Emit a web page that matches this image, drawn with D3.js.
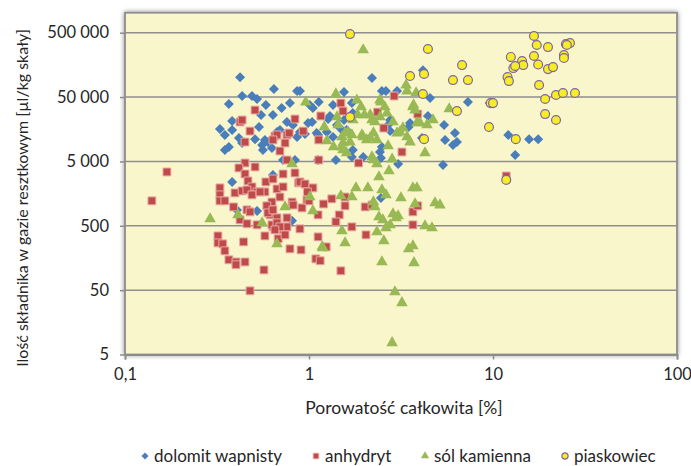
<!DOCTYPE html>
<html>
<head>
<meta charset="utf-8">
<script src="https://cdn.jsdelivr.net/npm/d3@7"></script>
<style>
  body { margin: 0; background: #fff; }
  text { font-family: Lato, "Open Sans", sans-serif; fill: #262626; }
</style>
</head>
<body>
<svg id="chart" width="691" height="466"></svg>
<script>
// porosity [%], amount [ul/kg]
var dolomit = [
  [0.422,102000],[0.433,51900],[0.49,51900],[0.522,46600],[0.645,66500],[0.861,62000],
  [0.367,38900],[0.583,37600],[0.71,33800],[0.788,40300],[1.13,41800],[1.05,33800],
  [1.01,37600],[0.549,26300],[0.637,26300],[0.382,21200],[0.328,15900],[0.349,12900],
  [0.382,15400],[0.535,17100],[0.509,11100],[0.416,11600],[0.433,9660],[0.759,20500],
  [0.818,18400],[0.695,15400],[0.67,14300],[0.988,19800],[1.04,20500],[0.576,10800],
  [0.556,9000],[0.598,10000],[0.562,7520],[0.629,8080],[0.349,7520],[0.367,8380],
  [0.893,14300],[0.951,13300],[0.861,12000],[1.1,13800],[0.723,5260],[0.839,5260],
  [1.12,5260],[0.382,2400],[0.637,3080],[0.522,852],[0.809,596],[2.46,1350],
  [0.893,62000],[2.2,98600],[4.16,131000],[1.55,59800],[2.49,62000],[2.62,62000],
  [3.01,62000],[4.55,48300],[7.31,41800],[9.6,40300],[1.35,37600],[1.3,25400],
  [1.27,22800],[1.73,28200],[1.71,40300],[1.55,22000],[1.42,18400],[1.51,15400],
  [1.6,15400],[1.12,12900],[1.25,14300],[1.35,12000],[2.76,22000],[2.69,18400],
  [3.54,19800],[3.48,17100],[4.43,25400],[5.42,18400],[6.21,13800],[5.49,10800],
  [6.06,9000],[6.37,10000],[4.11,11600],[1.71,5860],[1.73,7520],[2.49,8380],
  [2.43,7000],[1.4,5260],[1.97,5860],[3.05,4560],[5.35,4400],[2.76,14800],
  [12.1,12900],[15.7,11100],[17.6,11100],[13.2,6300],[2.46,5650],[0.406,883]
];
var anhydryt = [
  [0.509,31400],[0.422,20500],[0.433,22000],[0.478,14800],[0.449,10000],[0.653,12400],
  [0.67,12900],[0.759,12900],[0.78,13800],[0.839,22800],[0.93,14800],[0.741,9660],
  [0.695,7260],[0.637,10800],[0.759,5260],[0.449,4730],[0.509,4100],[0.416,3960],
  [1.16,25400],[1.13,10800],[1.13,5260],[0.169,3430],[0.14,1220],[0.449,3190],
  [0.466,2490],[0.49,2010],[0.328,1940],[0.328,1510],[0.328,1220],[0.349,1220],
  [0.396,1620],[0.433,1740],[0.46,1800],[0.522,1680],[0.576,1680],[0.583,2400],
  [0.637,2670],[0.723,3190],[0.839,3310],[0.67,1870],[0.723,2010],[0.629,1170],
  [0.59,1020],[0.809,1170],[0.877,2320],[0.916,948],[0.975,1260],[0.389,982],
  [0.46,883],[0.478,822],[0.422,618],[0.46,538],[0.522,517],[0.614,738],
  [0.67,664],[0.759,664],[0.637,481],[0.723,432],[0.759,481],[0.576,348],
  [0.68,314],[0.32,348],[0.32,271],[0.34,262],[0.349,204],[0.441,281],
  [0.367,148],[0.401,137],[0.401,124],[0.449,137],[0.569,103],[0.788,219],
  [0.905,211],[0.893,448],[0.478,48.8],[0.893,2400],[0.951,2230],[1.05,1940],
  [0.98,1680],[0.695,1400],[0.49,1510],[0.542,1680],[0.82,1050],[1.0,1220],
  [1.2,1090],[1.12,738],[0.598,793],[0.637,883],[0.629,517],[0.67,555],
  [0.695,481],[0.653,432],[0.741,361],[1.12,336],[1.09,153],[1.15,143],
  [1.33,1310],[1.57,1400],[1.57,1020],[1.46,738],[1.4,575],[2.02,982],
  [2.2,1050],[1.71,481],[2.04,361],[3.67,822],[3.9,1020],[3.67,517],
  [1.24,235],[1.49,99.8],[1.49,40300],[1.53,30300],[2.9,51900],[2.36,29200],
  [3.9,27200],[2.55,16500],[3.2,7000],[1.86,4730],[11.8,2970]
];
var solKamienna = [
  [0.96,41800],[0.809,4560],[1.21,17100],[1.25,10400],[0.29,640],[0.411,738],
  [0.556,555],[0.741,982],[0.67,262],[1.01,1400],[1.05,852],[1.18,235],
  [1.6,6760],[2.2,5860],[2.34,4560],[2.83,5430],[2.72,3560],[2.4,2870],
  [4.27,6760],[1.8,1940],[2.09,1940],[1.71,1400],[1.49,1460],[2.49,1800],
  [2.62,1510],[2.24,1170],[2.28,982],[2.4,688],[2.52,618],[3.16,1350],
  [3.67,1940],[3.86,1940],[3.77,1090],[4.84,1130],[5.15,1050],[2.86,765],
  [3.05,713],[2.97,664],[2.76,517],[2.62,464],[2.34,402],[1.51,417],
  [1.57,271],[2.55,290],[4.27,498],[4.66,464],[1.19,227],[3.48,219],
  [3.67,244],[2.49,137],[3.72,133],[2.93,47.1],[3.2,31.8],[2.83,7.6],
  [1.97,269000],[1.4,55700],[1.82,44900],[1.92,35000],[2.43,44900],[2.58,35000],
  [3.37,76800],[3.82,57800],[3.41,62000],[3.67,35000],[3.77,31400],[5.78,32600],
  [1.42,24500],[1.44,18400],[1.94,12900],[2.0,26300],[2.15,26300],[2.2,22000],
  [1.57,13800],[1.51,12000],[1.53,9660],[1.67,10000],[2.28,20500],[2.43,24500],
  [2.65,28200],[2.86,20500],[2.24,13800],[2.06,10800],[2.15,11600],[3.01,13800],
  [3.12,14300],[3.24,16500],[3.41,12000],[3.54,10000],[3.86,19800],[4.38,18400],
  [4.72,22000],[2.69,8680],[1.73,22000],[1.84,26300],[2.24,5260],[1.36,8380],
  [1.51,8380],[1.53,7520],[2.34,10800],[2.46,41800],[3.7,37600],[1.63,14300],
  [1.71,12900],[1.97,12000],[4.01,19800]
];
var piaskowiec = [
  [1.67,476000],[4.43,279000],[6.79,157000],[3.54,106000],[4.22,114000],[6.06,91800],
  [7.31,91800],[4.16,55700],[9.7,40300],[10.0,40300],[6.37,30300],[1.67,24500],
  [9.51,17100],[4.22,11100],[13.3,11100],[16.7,444000],[17.3,322000],[19.9,299000],
  [24.9,333000],[26.2,345000],[25.2,322000],[12.5,210000],[16.7,217000],[17.6,160000],
  [14.4,181000],[14.6,157000],[12.9,141000],[13.2,152000],[19.9,136000],[21.2,146000],
  [24.3,225000],[24.3,202000],[12.0,102000],[12.2,88600],[17.8,76800],[19.2,46600],
  [22.0,53800],[24.0,57800],[27.9,57800],[19.2,27200],[22.0,22000],[11.8,2580]
];

var xTicks = [0.1, 1, 10, 100];
var xTickLabels = ["0,1", "1", "10", "100"];
var yTicks = [5, 50, 500, 5000, 50000, 500000];
var yTickLabels = ["5", "50", "500", "5 000", "50 000", "500 000"];
var seriesNames = ["dolomit wapnisty", "anhydryt", "sól kamienna", "piaskowiec"];

var svg = d3.select("#chart");
var plot = {left: 125, right: 677, top: 12.7, bottom: 354.5};

var xScale = d3.scaleLog().domain([0.1, 100]).range([plot.left, plot.right]);
var yScale = d3.scaleLog().domain([5, 500000]).range([plot.bottom, 32.7]);

// shadow for the plot frame
var defs = svg.append("defs");
var shadow = defs.append("filter").attr("id", "shadow")
  .attr("x", "-5%").attr("y", "-5%").attr("width", "110%").attr("height", "110%");
shadow.append("feGaussianBlur").attr("in", "SourceAlpha").attr("stdDeviation", 2.5);
shadow.append("feComponentTransfer").append("feFuncA").attr("type", "linear").attr("slope", 0.45);
var merge = shadow.append("feMerge");
merge.append("feMergeNode");
merge.append("feMergeNode").attr("in", "SourceGraphic");

svg.append("rect")
  .attr("x", plot.left).attr("y", plot.top)
  .attr("width", plot.right - plot.left).attr("height", plot.bottom - plot.top)
  .attr("fill", "#FAF6CC")
  .attr("stroke", "#8c8c8c").attr("stroke-width", 1.8)
  .attr("filter", "url(#shadow)");

// horizontal gridlines
svg.append("g").selectAll("line")
  .data(yTicks.slice(1))
  .enter().append("line")
  .attr("x1", plot.left).attr("x2", plot.right)
  .attr("y1", d => yScale(d)).attr("y2", d => yScale(d))
  .attr("stroke", "#8e8e8e").attr("stroke-width", 1.5);

// axes
var xAxis = d3.axisBottom(xScale).tickValues(xTicks)
  .tickFormat((d, i) => xTickLabels[i]).tickSize(5).tickPadding(9);
var gx = svg.append("g").attr("transform", "translate(0," + plot.bottom + ")").call(xAxis);
gx.select(".domain").attr("stroke", "#8c8c8c").attr("stroke-width", 1.8);
gx.selectAll(".tick line").attr("stroke", "#8c8c8c").attr("stroke-width", 1.5);
gx.selectAll(".tick text").style("font-size", "16.5px").attr("fill", "#262626");

var yAxis = d3.axisLeft(yScale).tickValues(yTicks)
  .tickFormat((d, i) => yTickLabels[i]).tickSize(5).tickPadding(11);
var gy = svg.append("g").attr("transform", "translate(" + plot.left + ",0)").call(yAxis);
gy.select(".domain").remove();
gy.selectAll(".tick line").attr("stroke", "#8c8c8c").attr("stroke-width", 1.5);
gy.selectAll(".tick text").style("font-size", "16.5px").attr("fill", "#262626");

// axis titles
svg.append("text")
  .attr("x", 404).attr("y", 414)
  .attr("text-anchor", "middle").style("font-size", "17.5px")
  .text("Porowatość całkowita [%]");
svg.append("text")
  .attr("transform", "translate(28,198) rotate(-90)")
  .attr("text-anchor", "middle").style("font-size", "16px")
  .text("Ilość składnika w gazie resztkowym [µl/kg skały]");

// markers
var pts = svg.append("g");
function drawSymbol(g, data, type, size, fill, stroke, sw) {
  g.selectAll(null).data(data).enter().append("path")
    .attr("transform", d => "translate(" + xScale(d[0]) + "," + yScale(d[1]) + ")")
    .attr("d", d3.symbol().type(type).size(size))
    .attr("fill", fill).attr("stroke", stroke).attr("stroke-width", sw);
}
var diamond = {draw: function(ctx, size) {
  var r = Math.sqrt(size) / 2;
  ctx.moveTo(0, -r); ctx.lineTo(r, 0); ctx.lineTo(0, r); ctx.lineTo(-r, 0); ctx.closePath();
}};
var styles = [
  {data: dolomit, type: diamond, size: 100, fill: "#4A7EBB", stroke: "none", sw: 0},
  {data: anhydryt, type: d3.symbolSquare, size: 62, fill: "#BE4B48", stroke: "#E8A8A6", sw: 1},
  {data: solKamienna, type: d3.symbolTriangle, size: 58, fill: "#98B954", stroke: "none", sw: 0},
  {data: piaskowiec, type: d3.symbolCircle, size: 62, fill: "#F4EE22", stroke: "#8064A2", sw: 1.2}
];
styles.forEach(s => drawSymbol(pts, s.data, s.type, s.size, s.fill, s.stroke, s.sw));

// legend
var legendX = [145, 316, 425, 565];
var legend = svg.append("g");
seriesNames.forEach(function(name, i) {
  var s = styles[i];
  legend.append("path")
    .attr("transform", "translate(" + legendX[i] + ",456)")
    .attr("d", d3.symbol().type(s.type).size(s.size * 0.5))
    .attr("fill", s.fill).attr("stroke", s.stroke).attr("stroke-width", s.sw);
  legend.append("text")
    .attr("x", legendX[i] + 9).attr("y", 462)
    .style("font-size", "17px")
    .text(name);
});
</script>
</body>
</html>
